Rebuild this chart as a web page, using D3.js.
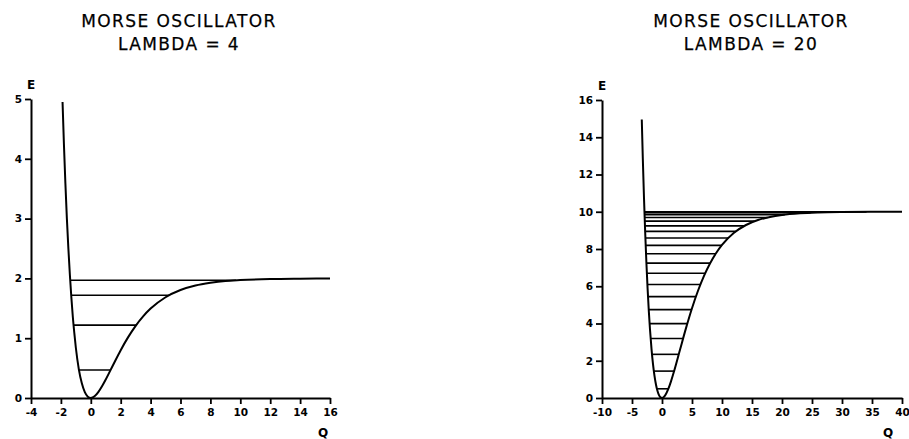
<!DOCTYPE html>
<html>
<head>
<meta charset="utf-8">
<script src="https://cdn.jsdelivr.net/npm/d3@7"></script>
<style>
  html, body { margin: 0; padding: 0; background: #fff; }
  svg { display: block; }
  .title { font-family: "DejaVu Sans", sans-serif; font-size: 17px; letter-spacing: 1.4px; fill: #000; stroke: #000; stroke-width: 0.25px; }
  .axlab { font-family: "DejaVu Sans", sans-serif; font-size: 12px; font-weight: bold; fill: #000; }
  .tick text { font-family: "DejaVu Sans", sans-serif; font-size: 10.5px; font-weight: bold; fill: #000; }
</style>
</head>
<body>
<script>
// ---------- LEFT PANEL DATA (lambda = 4) ----------
const leftTitle = ["MORSE OSCILLATOR", "LAMBDA = 4"];
const leftXTicks = [-4, -2, 0, 2, 4, 6, 8, 10, 12, 14, 16];
const leftYTicks = [0, 1, 2, 3, 4, 5];
const leftCurveQ = [-1.89, -1.8, -1.7, -1.6, -1.5, -1.4, -1.3, -1.2, -1.1, -1.0, -0.8, -0.6, -0.4, -0.2, 0, 0.25, 0.5, 0.75, 1, 1.5, 2, 2.5, 3, 3.5, 4, 5, 6, 7, 8, 9, 10, 12, 14, 16];
const leftCurveE = [4.95, 4.26, 3.59, 3.00, 2.50, 2.06, 1.68, 1.35, 1.08, 0.84, 0.48, 0.245, 0.098, 0.022, 0, 0.028, 0.098, 0.196, 0.31, 0.557, 0.80, 1.018, 1.207, 1.365, 1.495, 1.685, 1.806, 1.881, 1.927, 1.958, 1.973, 1.990, 1.996, 1.999];
const leftLevelE  = [0.469, 1.219, 1.719, 1.969];
const leftLevelQ1 = [-0.79, -1.154, -1.312, -1.378];
const leftLevelQ2 = [1.324, 3.034, 5.235, 9.71];

// ---------- RIGHT PANEL DATA (lambda = 20) ----------
const rightTitle = ["MORSE OSCILLATOR", "LAMBDA = 20"];
const rightXTicks = [-10, -5, 0, 5, 10, 15, 20, 25, 30, 35, 40];
const rightYTicks = [0, 2, 4, 6, 8, 10, 12, 14, 16];
const rightCurveQ = [-3.37, -3.2, -3.0, -2.8, -2.6, -2.4, -2.2, -2.0, -1.75, -1.5, -1.25, -1.0, -0.75, -0.5, -0.25, 0, 0.5, 1, 1.5, 2, 3, 4, 5, 6, 7, 8, 9, 10, 12, 14, 16, 18, 20, 23, 26, 30, 35, 40];
const rightCurveE = [14.95, 12.88, 10.73, 8.87, 7.26, 5.87, 4.68, 3.68, 2.64, 1.82, 1.19, 0.715, 0.378, 0.158, 0.037, 0, 0.125, 0.445, 0.895, 1.425, 2.589, 3.751, 4.820, 5.757, 6.556, 7.222, 7.771, 8.218, 8.870, 9.289, 9.554, 9.721, 9.826, 9.914, 9.958, 9.984, 9.995, 9.998];
const rightLevelE  = [0.494, 1.444, 2.344, 3.194, 3.994, 4.744, 5.444, 6.094, 6.694, 7.244, 7.744, 8.194, 8.594, 8.944, 9.244, 9.494, 9.694, 9.844, 9.944, 9.994];
const rightLevelQ1 = [-0.847, -1.359, -1.665, -1.891, -2.067, -2.211, -2.332, -2.435, -2.522, -2.598, -2.664, -2.720, -2.769, -2.809, -2.843, -2.871, -2.893, -2.908, -2.918, -2.925];
const rightLevelQ2 = [1.061, 2.017, 2.792, 3.514, 4.218, 4.925, 5.649, 6.400, 7.192, 8.036, 8.946, 9.941, 11.046, 12.293, 13.738, 15.458, 17.602, 20.454, 24.77, 34.09];

const W = 909, H = 439;
const svg = d3.select("body").append("svg").attr("width", W).attr("height", H);

function fmt(d) { return String(d); }

function panel(cfg) {
  const x = d3.scaleLinear().domain(cfg.xDomain).range(cfg.xRange);
  const y = d3.scaleLinear().domain(cfg.yDomain).range(cfg.yRange);
  const g = svg.append("g");

  // titles
  g.append("text").attr("class", "title").attr("x", cfg.titleX).attr("y", 27)
    .attr("text-anchor", "middle").text(cfg.title[0]);
  g.append("text").attr("class", "title").attr("x", cfg.titleX).attr("y", 50)
    .attr("text-anchor", "middle").text(cfg.title[1]);

  // axes
  const xa = g.append("g").attr("transform", `translate(0,${y(0)})`)
    .call(d3.axisBottom(x).tickValues(cfg.xTicks).tickSize(6).tickSizeOuter(0).tickPadding(5).tickFormat(fmt));
  const ya = g.append("g").attr("transform", `translate(${x(cfg.xDomain[0])},0)`)
    .call(d3.axisLeft(y).tickValues(cfg.yTicks).tickSize(6).tickSizeOuter(0).tickPadding(3).tickFormat(fmt));
  [xa, ya].forEach(a => {
    a.select(".domain").attr("stroke", "#000").attr("stroke-width", 2);
    a.selectAll(".tick line").attr("stroke", "#000").attr("stroke-width", 1.8);
  });

  // axis labels
  g.append("text").attr("class", "axlab").attr("x", x(cfg.xDomain[0])).attr("y", cfg.eY)
    .attr("text-anchor", "middle").text("E");
  g.append("text").attr("class", "axlab").attr("x", cfg.qX).attr("y", 437)
    .attr("text-anchor", "middle").text("Q");

  // energy levels
  g.selectAll("line.level").data(cfg.levelE).join("line").attr("class", "level")
    .attr("x1", (d, i) => x(cfg.levelQ1[i]))
    .attr("x2", (d, i) => x(cfg.levelQ2[i]))
    .attr("y1", d => y(d)).attr("y2", d => y(d))
    .attr("stroke", "#000").attr("stroke-width", 1.6);

  // potential curve
  const pts = cfg.curveQ.map((q, i) => [q, cfg.curveE[i]]);
  g.append("path").datum(pts)
    .attr("d", d3.line().x(d => x(d[0])).y(d => y(d[1])).curve(d3.curveMonotoneX))
    .attr("fill", "none").attr("stroke", "#000").attr("stroke-width", 2);
}

panel({
  xDomain: [-4, 16], xRange: [31, 330],
  yDomain: [0, 5], yRange: [398, 99],
  xTicks: leftXTicks, yTicks: leftYTicks,
  title: leftTitle, titleX: 179, eY: 89, qX: 323,
  curveQ: leftCurveQ, curveE: leftCurveE,
  levelE: leftLevelE, levelQ1: leftLevelQ1, levelQ2: leftLevelQ2
});

panel({
  xDomain: [-10, 40], xRange: [602, 902],
  yDomain: [0, 16], yRange: [398, 100],
  xTicks: rightXTicks, yTicks: rightYTicks,
  title: rightTitle, titleX: 751, eY: 90, qX: 888,
  curveQ: rightCurveQ, curveE: rightCurveE,
  levelE: rightLevelE, levelQ1: rightLevelQ1, levelQ2: rightLevelQ2
});
</script>
</body>
</html>
